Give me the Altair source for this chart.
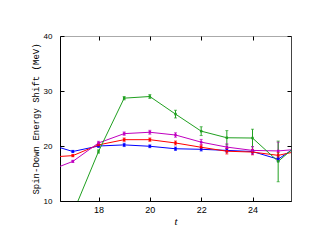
import altair as alt
import pandas as pd

t = [16, 17, 18, 19, 20, 21, 22, 23, 24, 25, 26]
series = ["A", "B", "C", "D"]
colors = ["#0000ff", "#ff0000", "#c000c0", "#20a020"]

blue = [20.4, 19.0, 20.0, 20.2, 19.95, 19.5, 19.4, 19.2, 19.0, 17.6, 20.8]
blue_err = [None, 0.2, 0.25, 0.3, 0.25, 0.3, 0.3, 0.3, 0.3, 0.4, None]
red = [17.95, 18.25, 20.2, 21.15, 21.15, 20.55, 19.77, 19.05, 18.9, 18.3, 19.3]
red_err = [None, 0.2, 0.3, 0.3, 0.3, 0.35, 0.4, 0.5, 0.5, 0.5, None]
mag = [15.4, 17.2, 20.55, 22.25, 22.5, 22.0, 20.7, 19.8, 19.2, 19.1, 19.5]
mag_err = [None, 0.2, 0.3, 0.3, 0.35, 0.4, 0.5, 0.6, 0.7, 1.6, None]
green = [None, 7.75, 19.0, 28.7, 29.0, 25.8, 22.7, 21.5, 21.45, 17.2, 21.2]
green_err = [None, None, 0.3, 0.3, 0.35, 0.7, 0.8, 1.3, 1.6, 3.7, None]

rows = []
for s, vals, errs in zip(series, [blue, red, mag, green], [blue_err, red_err, mag_err, green_err]):
    for i, (tt, v, e) in enumerate(zip(t, vals, errs)):
        if v is None:
            continue
        rows.append({"s": s, "order": i, "t": tt, "v": v,
                     "lo": v - e if e is not None else None,
                     "hi": v + e if e is not None else None,
                     "has": e is not None})
df = pd.DataFrame(rows)

xs = alt.Scale(domain=[16.5, 25.5], nice=False, zero=False)
ys = alt.Scale(domain=[10, 40], nice=False, zero=False)
col = alt.Color("s:N", scale=alt.Scale(domain=series, range=colors), legend=None)

lab = dict(labelFont="Liberation Sans", labelColor="black",
           tickColor="black", tickSize=4, grid=False, domain=False, offset=-4)

xb = alt.Axis(orient="bottom", values=[18, 20, 22, 24], labelPadding=4, labelFontSize=9,
              title="t", titleFont="Liberation Serif", titleFontStyle="italic", titleFontSize=11,
              titleFontWeight="normal", titlePadding=1, **lab)
yl = alt.Axis(orient="left", values=[10, 20, 30, 40], labelPadding=8, labelFontSize=8,
              title="Spin-Down Energy Shift (MeV)", titleFont="Liberation Mono",
              titleFontSize=9, titleFontWeight="normal", titlePadding=3, **lab)
xt = alt.Axis(orient="top", values=[18, 20, 22, 24], labels=False, title=None, **lab)
yr = alt.Axis(orient="right", values=[10, 20, 30, 40], labels=False, title=None, **lab)

def frame(orient, color, vals):
    return alt.Axis(orient=orient, values=vals, labels=False, ticks=False, title=None,
                    grid=False, domain=True, domainColor=color, domainWidth=1, offset=0)

base = alt.Chart(df)

lines = base.mark_line(clip=True, strokeWidth=1).encode(
    x=alt.X("t:Q", scale=xs, axis=xb),
    y=alt.Y("v:Q", scale=ys, axis=yl),
    color=col, order="order:Q")

pts = base.transform_filter("datum.has").mark_square(size=6, clip=True, opacity=1).encode(
    x=alt.X("t:Q", scale=xs, axis=xt),
    y=alt.Y("v:Q", scale=ys, axis=yr),
    color=col)

err = base.transform_filter("datum.has").mark_rule(clip=True, strokeWidth=1).encode(
    x=alt.X("t:Q", scale=xs, axis=frame("bottom", "black", [18])),
    y=alt.Y("lo:Q", scale=ys, axis=frame("left", "black", [20])),
    y2="hi:Q", color=col)

caps_lo = base.transform_filter("datum.has").mark_tick(clip=True, size=3, thickness=1, orient="horizontal").encode(
    x=alt.X("t:Q", scale=xs, axis=frame("top", "#aaaaaa", [18])),
    y=alt.Y("lo:Q", scale=ys, axis=frame("right", "#444444", [20])),
    color=col)
caps_hi = base.transform_filter("datum.has").mark_tick(clip=True, size=3, thickness=1, orient="horizontal").encode(
    x=alt.X("t:Q", scale=xs, axis=None),
    y=alt.Y("hi:Q", scale=ys, axis=None),
    color=col)

chart = alt.layer(lines, err, caps_lo, caps_hi, pts).resolve_axis(
    x="independent", y="independent"
).properties(
    width=231, height=165, autosize=alt.AutoSizeParams(type="none"),
    padding={"left": 52, "top": 28, "right": 24, "bottom": 32}
).configure_view(stroke=None).configure(background="white")

chart.save("out.html", embed_options={"renderer": "svg", "actions": False})
